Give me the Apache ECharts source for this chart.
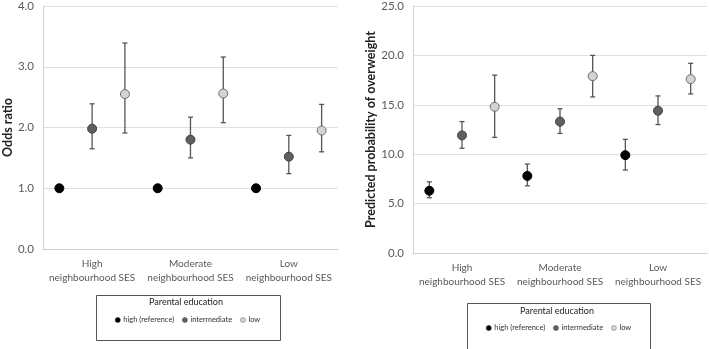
<!DOCTYPE html>
<html><head><meta charset="utf-8">
<script src="https://cdn.jsdelivr.net/npm/echarts@6/dist/echarts.min.js"></script>
<style>html,body{margin:0;padding:0;background:#fff}#c{width:709px;height:349px}</style>
</head><body><div id="c"></div>
<script>
const categories = ['High\nneighbourhood SES', 'Moderate\nneighbourhood SES', 'Low\nneighbourhood SES'];
const groups = ['high (reference)', 'intermediate', 'low'];
const orTicks = [0, 1, 2, 3, 4];
const ppTicks = [0, 5, 10, 15, 20, 25];

// Odds ratio (left)
const orHigh = [1.0, 1.0, 1.0];
const orInt = [1.98, 1.80, 1.52];
const orIntLo = [1.65, 1.50, 1.24];
const orIntHi = [2.39, 2.17, 1.87];
const orLow = [2.55, 2.56, 1.95];
const orLowLo = [1.91, 2.08, 1.60];
const orLowHi = [3.39, 3.16, 2.38];

// Predicted probability (right)
const ppHigh = [6.3, 7.8, 9.9];
const ppHighLo = [5.6, 6.8, 8.4];
const ppHighHi = [7.2, 9.0, 11.5];
const ppInt = [11.9, 13.3, 14.4];
const ppIntLo = [10.6, 12.1, 13.0];
const ppIntHi = [13.3, 14.6, 15.9];
const ppLow = [14.8, 17.9, 17.6];
const ppLowLo = [11.7, 15.8, 16.1];
const ppLowHi = [18.0, 20.0, 19.2];

const FONT = 'Lato';
const styles = [
  {color: '#000000', borderColor: '#000000'},
  {color: '#5f5f5f', borderColor: '#404040'},
  {color: '#d4d4d4', borderColor: '#6f6f6f'}
];
// position inside category band: (2s+1)/6
function xpos(ci, s) { return ci + (2 * s + 1) / 6; }

function pts(vals, s) { return vals.map((v, i) => [xpos(i, s), v]); }
function bars(lo, hi, s) { return lo.map((l, i) => [xpos(i, s), l, hi[i]]); }

function errSeries(lo, hi, s, g) {
  return {
    type: 'custom', xAxisIndex: g * 2 + 1, yAxisIndex: g, z: 1,
    data: bars(lo, hi, s), silent: true,
    renderItem: function (params, api) {
      const x = api.value(0);
      const a = api.coord([x, api.value(1)]);
      const b = api.coord([x, api.value(2)]);
      const cw = 2.5;
      const st = {stroke: '#555555', lineWidth: 1.3};
      return {type: 'group', children: [
        {type: 'line', shape: {x1: a[0], y1: a[1], x2: b[0], y2: b[1]}, style: st},
        {type: 'line', shape: {x1: a[0] - cw, y1: a[1], x2: a[0] + cw, y2: a[1]}, style: st},
        {type: 'line', shape: {x1: b[0] - cw, y1: b[1], x2: b[0] + cw, y2: b[1]}, style: st}
      ]};
    }
  };
}
function ptSeries(vals, s, g) {
  return {
    type: 'scatter', name: groups[s], xAxisIndex: g * 2 + 1, yAxisIndex: g, z: 3,
    data: pts(vals, s), symbol: 'circle', symbolSize: 9,
    itemStyle: {color: styles[s].color, borderColor: styles[s].borderColor, borderWidth: 1, opacity: 1}
  };
}

const grids = [
  {left: 42, top: 4, width: 296, height: 245},
  {left: 413, top: 4, width: 294, height: 249}
];
function catAxis(g, margin) {
  return {type: 'category', gridIndex: g, data: categories, boundaryGap: true,
    axisLine: {show: true, lineStyle: {color: '#d0d0d0', width: 1}},
    axisTick: {show: false},
    axisLabel: {color: '#595959', fontFamily: FONT, fontSize: 10, margin: margin, lineHeight: 14, interval: 0},
    splitLine: {show: false}};
}
function valXAxis(g) {
  return {type: 'value', gridIndex: g, min: 0, max: 3, show: false, splitLine: {show: false}};
}
function yAxis(g, ticks, name, gap) {
  return {type: 'value', gridIndex: g, min: ticks[0], max: ticks[ticks.length - 1],
    interval: ticks[1] - ticks[0],
    name: name, nameLocation: 'middle', nameGap: gap, nameRotate: 90,
    nameTextStyle: {color: '#222222', fontFamily: FONT, fontSize: 12.5, fontWeight: 'bold'},
    axisLine: {show: true, lineStyle: {color: '#d0d0d0', width: 1}},
    axisTick: {show: false},
    axisLabel: {color: '#595959', fontFamily: FONT, fontSize: 11.5, margin: 9, formatter: v => v.toFixed(1)},
    splitLine: {show: true, lineStyle: {color: '#e0e0e0', width: 1}}};
}

const legendCommon = {
  data: groups, orient: 'horizontal', icon: 'circle', itemWidth: 5, itemHeight: 5, itemGap: 8,
  itemStyle: {borderWidth: 0.5},
  textStyle: {color: '#333333', fontFamily: FONT, fontSize: 7.5, padding: [0, 0, 0, -2]},
  selectedMode: false, padding: 0
};

const option = {
  animation: false,
  backgroundColor: '#ffffff',
  grid: grids,
  xAxis: [catAxis(0, 8), valXAxis(0), catAxis(1, 8), valXAxis(1)],
  yAxis: [yAxis(0, orTicks, 'Odds ratio', 28), yAxis(1, ppTicks, 'Predicted probability of overweight', 35)],
  legend: [
    Object.assign({left: 115, top: 316}, legendCommon),
    Object.assign({left: 486, top: 324}, legendCommon)
  ],
  graphic: [
    {type: 'rect', left: 94, top: 293, shape: {width: 184, height: 45}, style: {fill: 'none', stroke: '#555555', lineWidth: 1}},
    {type: 'text', position: [186, 302], style: {text: 'Parental education', fill: '#222222', font: '9px Lato', textAlign: 'center', textVerticalAlign: 'middle'}},
    {type: 'rect', left: 465, top: 301, shape: {width: 183, height: 46}, style: {fill: 'none', stroke: '#555555', lineWidth: 1}},
    {type: 'text', position: [557, 311], style: {text: 'Parental education', fill: '#222222', font: '9px Lato', textAlign: 'center', textVerticalAlign: 'middle'}}
  ],
  series: [
    errSeries(orIntLo, orIntHi, 1, 0),
    errSeries(orLowLo, orLowHi, 2, 0),
    ptSeries(orHigh, 0, 0),
    ptSeries(orInt, 1, 0),
    ptSeries(orLow, 2, 0),
    errSeries(ppHighLo, ppHighHi, 0, 1),
    errSeries(ppIntLo, ppIntHi, 1, 1),
    errSeries(ppLowLo, ppLowHi, 2, 1),
    ptSeries(ppHigh, 0, 1),
    ptSeries(ppInt, 1, 1),
    ptSeries(ppLow, 2, 1)
  ]
};
const chart = echarts.init(document.getElementById('c'), null, {renderer: 'canvas'});
chart.setOption(option);
</script>
</body></html>
